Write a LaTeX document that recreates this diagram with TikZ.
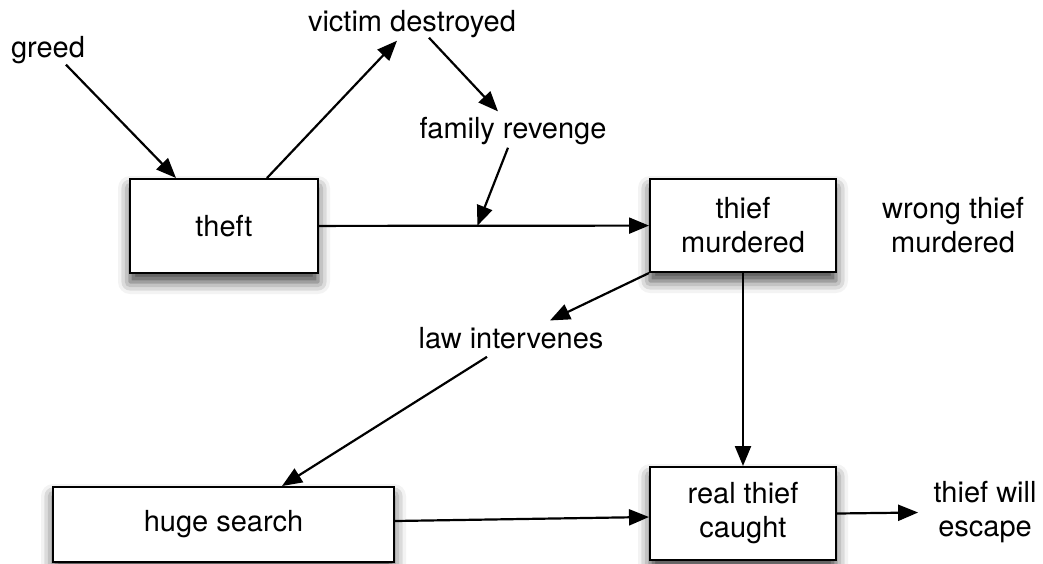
\documentclass[tikz,border=0pt]{standalone}
\usepackage{fontspec}
\setmainfont{TeX Gyre Heros}
\usetikzlibrary{arrows.meta, shadows.blur}

\begin{document}
\begin{tikzpicture}[x=0.5pt, y=-0.5pt,
            font=\fontsize{14.5}{17}\selectfont,
            box/.style={draw, rectangle, line width=1pt, fill=white, align=center,
                minimum width=93pt, minimum height=46.5pt,
                blur shadow={shadow xshift=0pt, shadow yshift=-4.5pt, shadow blur radius=6pt, shadow opacity=75}},
            word/.style={inner sep=0pt, align=center},
            arr/.style={-{Triangle[length=10pt, width=8pt]}, line width=1.1pt}]
    \useasboundingbox (0,0) rectangle (1043,563);

    \node[box, minimum width=94pt, minimum height=47pt] (theft) at (224,226) {theft};
    \node[box] (thief) at (743,225.5) {thief\\murdered};
    \node[box, minimum width=170.5pt, minimum height=37.5pt] (search) at (223.5,524.5) {huge search};
    \node[box] (real) at (743,513.5) {real thief\\caught};

    \node[word, anchor=base] (greed) at (48,57) {greed};
    \node[word, anchor=base] (victim) at (412,31) {victim destroyed};
    \node[word, anchor=base] (family) at (513,138) {family revenge};
    \node[word, anchor=base] (law) at (511,348) {law intervenes};
    \node[word] (wrong) at (953,225) {wrong thief\\murdered};
    \node[word] (escape) at (985,512.5) {thief will\\escape};

    \draw[arr] ([xshift=9pt, yshift=-0.5pt]greed.south) -- ([xshift=23.5pt]theft.north west);
    \draw[arr] ([xshift=69pt]theft.north west) -- ([xshift=-7.5pt, yshift=-1.5pt]victim.south);
    \draw[arr] ([xshift=8.5pt]victim.south) -- ([xshift=-7.5pt, yshift=2.5pt]family.north);
    \draw[arr] (theft) -- coordinate[pos=0.48] (hit) (thief);
    \draw[arr] ([xshift=-2.5pt, yshift=-1.5pt]family.south) -- (hit);
    \draw[arr] (thief.south west) -- ([xshift=19.5pt, yshift=3pt]law.north);
    \draw[arr] ([xshift=-12pt, yshift=-4pt]law.south) -- ([xshift=29.25pt]search.north);
    \draw[arr] (thief) -- (real);
    \draw[arr] ([yshift=1.75pt]search.east) -- ([yshift=-1.75pt]real.west);
    \draw[arr] (real.east) -- ([xshift=-7.5pt]escape.west);
\end{tikzpicture}
\end{document}
